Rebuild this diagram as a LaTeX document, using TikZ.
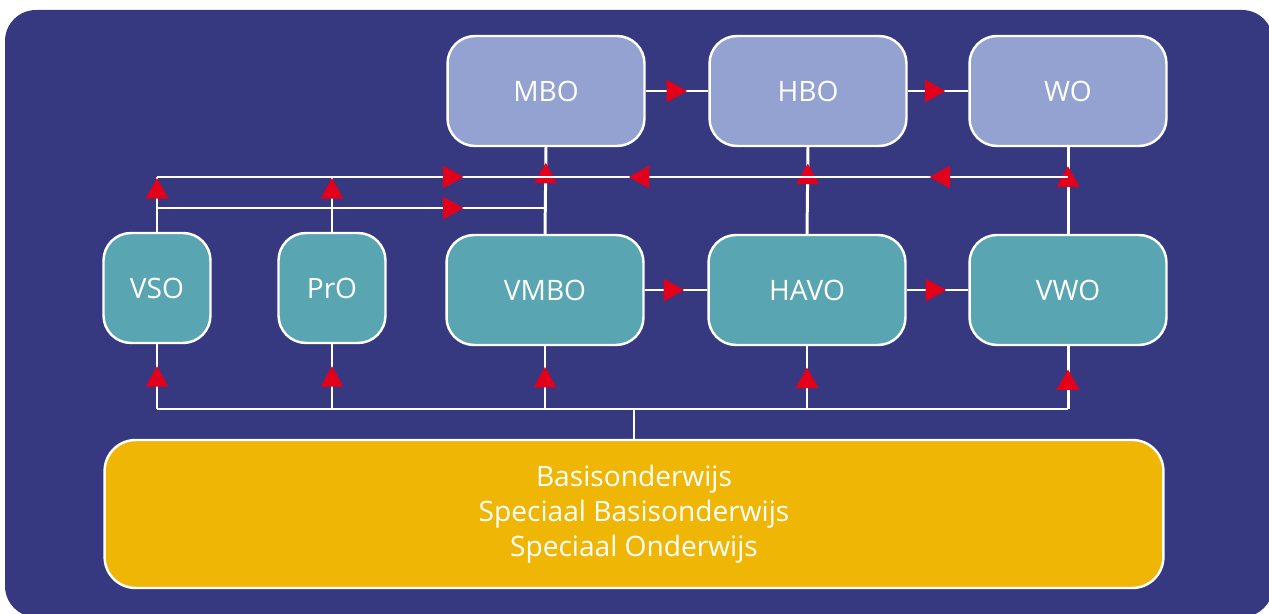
\documentclass[tikz,border=0pt]{standalone}
\usepackage{fontspec}
\setmainfont{Open Sans}
\usetikzlibrary{arrows.meta,decorations.markings}
\definecolor{bgblue}{RGB}{54,57,128}
\definecolor{upperfill}{RGB}{147,162,209}
\definecolor{lowerfill}{RGB}{89,165,178}
\definecolor{basegold}{RGB}{239,182,5}
\definecolor{arrowred}{RGB}{226,0,26}
\tikzset{
  school/.style={draw=white, line width=1.4pt, rounded corners=0.55cm, text=white,
    font=\fontsize{16}{20}\selectfont, inner sep=0pt, minimum height=2.2cm},
  higher/.style={school, fill=upperfill, minimum width=3.94cm},
  secondary/.style={school, fill=lowerfill, minimum width=3.94cm},
  smallbox/.style={school, fill=lowerfill, minimum width=2.14cm},
  basebox/.style={school, fill=basegold, rounded corners=0.62cm, align=center,
    minimum width=21.18cm, minimum height=2.96cm},
  link/.style={draw=white, line width=1.7pt},
  flow/.style={link, postaction={decorate, decoration={markings,
    mark=at position #1 with {\arrow{Triangle[width=0.46cm,length=0.41cm,color=arrowred,line width=0pt]}}}}}
}
\begin{document}
\begin{tikzpicture}[x=0.02cm, y=-0.02cm]
        \useasboundingbox (0,0) rectangle (1269,614);
        \fill[bgblue, rounded corners=0.62cm] (5,10) rectangle (1273,617);

        \node[higher] (mbo) at (546,91) {MBO};
        \node[higher] (hbo) at (808,91) {HBO};
        \node[higher] (wo) at (1068,91) {WO};
        \node[smallbox] (vso) at (157,288) {VSO};
        \node[smallbox] (pro) at (332,288) {PrO};
        \node[secondary] (vmbo) at (545,290) {VMBO};
        \node[secondary] (havo) at (807,290) {HAVO};
        \node[secondary] (vwo) at (1068,290) {VWO};
        \node[basebox] (basis) at (634,514) {Basisonderwijs\\Speciaal Basisonderwijs\\Speciaal Onderwijs};

        \coordinate (vsotop) at (157,177);
        \coordinate (protop) at (332,177);
        \coordinate (mid) at (545,177);
        \coordinate (hbotop) at (807,177);
        \coordinate (wotop) at (1068,177);
        \coordinate (vsoside) at (157,208);
        \coordinate (vmboside) at (545,208);
        \coordinate (vsofoot) at (157,409);
        \coordinate (profoot) at (332,409);
        \coordinate (vmbofoot) at (545,409);
        \coordinate (havofoot) at (807,409);
        \coordinate (vwofoot) at (1068,409);
        \coordinate (stem) at (634,409);

        \draw[flow=0.66] (mbo) -- (hbo);
        \draw[flow=0.62] (hbo) -- (wo);
        \draw[flow=0.63] (vmbo) -- (havo);
        \draw[flow=0.64] (havo) -- (vwo);

        \draw[flow=0.82] (vmbo.north) -- (mbo.south);
        \draw[flow=0.81] (havo.north) -- (hbo.south);
        \draw[flow=0.78] (vwo.north) -- (wo.south);

        \draw[flow=0.98] (vso.north) -- (vsotop);
        \draw[flow=0.98] (pro.north) -- (protop);
        \draw[flow=0.79] (vsotop) -- (mid);
        \draw[flow=0.79] (vsoside) -- (vmboside);
        \draw[flow=0.53] (wotop) -- (hbotop);
        \draw[flow=0.68] (hbotop) -- (mid);

        \draw[link] (vsofoot) -- (vwofoot);
        \draw[link] (stem) -- (stem |- basis.north);
        \draw[flow=0.66] (vsofoot) -- (vso.south);
        \draw[flow=0.66] (profoot) -- (pro.south);
        \draw[flow=0.67] (vmbofoot) -- (vmbo.south);
        \draw[flow=0.66] (havofoot) -- (havo.south);
        \draw[flow=0.63] (vwofoot) -- (vwo.south);

      \end{tikzpicture}
\end{document}
